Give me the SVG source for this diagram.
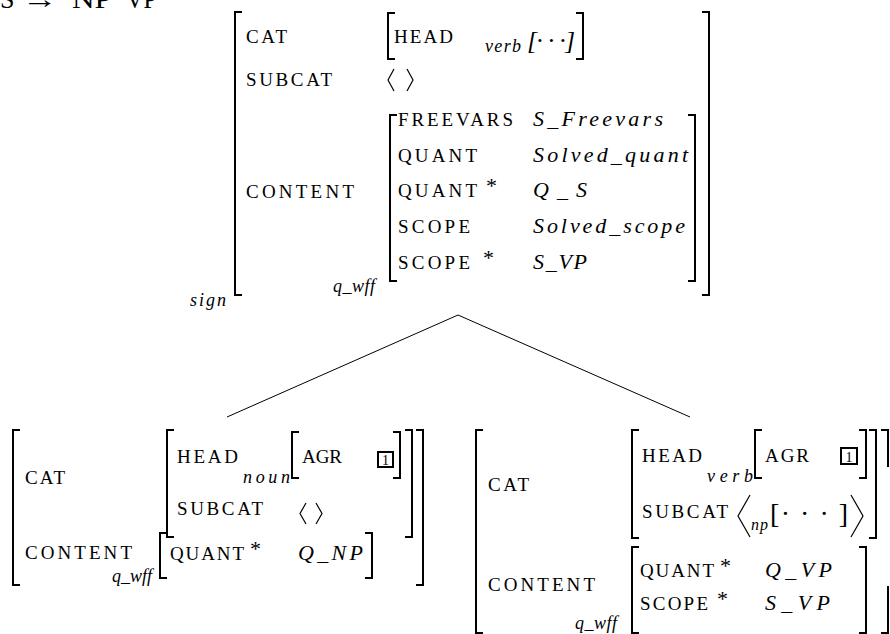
<svg xmlns="http://www.w3.org/2000/svg" width="890" height="634" viewBox="0 0 890 634">
  <style>
    .lbl { font-family: "Liberation Serif", serif; font-size: 19px; fill: #000; }
    .val { font-family: "Liberation Serif", serif; font-style: italic; font-size: 22px; fill: #000; }
    .typ { font-family: "Liberation Serif", serif; font-style: italic; font-size: 18px; fill: #000; }
    .star { font-family: "Liberation Serif", serif; font-size: 22px; fill: #000; }
    .num { font-family: "Liberation Serif", serif; font-size: 14px; fill: #000; text-anchor: middle; }
    .title { font-family: "Liberation Serif", serif; font-size: 26px; fill: #000; }
    .br { fill: none; stroke: #000; stroke-width: 2; }
    .ang { fill: none; stroke: #000; stroke-width: 1.2; }
    .edge { fill: none; stroke: #000; stroke-width: 1; }
    .tag { fill: none; stroke: #000; stroke-width: 2; }
  </style>

  <!-- rule heading -->
  <g id="rule">
    <text class="title" x="0" y="8">S</text>
    <text class="title" x="22" y="8" textLength="36" lengthAdjust="spacingAndGlyphs">→</text>
    <text class="title" x="72" y="8" textLength="40" lengthAdjust="spacingAndGlyphs">NP</text>
    <text class="title" x="126" y="8" textLength="31" lengthAdjust="spacingAndGlyphs">VP</text>
  </g>

  <!-- mother sign -->
  <g id="mother">
    <path class="br" d="M242,12 H235 V295 H242"/>
    <path class="br" d="M702,12 H709 V295 H702"/>
    <text class="typ" x="190" y="306" textLength="36" lengthAdjust="spacing">sign</text>

    <text class="lbl" x="246" y="43" textLength="41" lengthAdjust="spacing">CAT</text>
    <path class="br" d="M395,13 H388 V59 H395"/>
    <path class="br" d="M576,13 H583 V59 H576"/>
    <text class="lbl" x="394" y="43" textLength="59" lengthAdjust="spacing">HEAD</text>
    <text class="typ" x="485" y="52" textLength="36" lengthAdjust="spacing">verb</text>
    <text class="val" x="527" y="49" style="font-size:26px" textLength="48" lengthAdjust="spacing">[· · ·]</text>

    <text class="lbl" x="246" y="86" textLength="86" lengthAdjust="spacing">SUBCAT</text>
    <path class="ang" d="M394,69 L388,80 L394,91"/>
    <path class="ang" d="M407,69 L413,80 L407,91"/>

    <text class="lbl" x="246" y="198" textLength="108" lengthAdjust="spacing">CONTENT</text>
    <path class="br" d="M397,115 H390 V281 H397"/>
    <path class="br" d="M688,115 H695 V281 H688"/>
    <text class="typ" x="333" y="292" textLength="42" lengthAdjust="spacing">q_wff</text>

    <text class="lbl" x="398" y="126" textLength="115" lengthAdjust="spacing">FREEVARS</text>
    <text class="val" x="533" y="126" textLength="130" lengthAdjust="spacing">S_Freevars</text>
    <text class="lbl" x="398" y="162" textLength="79" lengthAdjust="spacing">QUANT</text>
    <text class="val" x="533" y="162" textLength="155" lengthAdjust="spacing">Solved_quant</text>
    <text class="lbl" x="398" y="197" textLength="79" lengthAdjust="spacing">QUANT</text>
    <text class="star" x="486" y="193">*</text>
    <text class="val" x="533" y="197" textLength="54" lengthAdjust="spacing">Q_S</text>
    <text class="lbl" x="398" y="233" textLength="72" lengthAdjust="spacing">SCOPE</text>
    <text class="val" x="533" y="233" textLength="152" lengthAdjust="spacing">Solved_scope</text>
    <text class="lbl" x="398" y="269" textLength="72" lengthAdjust="spacing">SCOPE</text>
    <text class="star" x="483" y="265">*</text>
    <text class="val" x="533" y="269" textLength="54" lengthAdjust="spacing">S_VP</text>
  </g>

  <!-- branches -->
  <g id="edges">
    <path class="edge" d="M227,417 L458,315 L690,417"/>
  </g>

  <!-- left daughter -->
  <g id="daughter-np">
    <path class="br" d="M20,430 H13 V585 H20"/>
    <path class="br" d="M416,430 H423 V585 H416"/>
    <text class="lbl" x="25" y="484" textLength="40" lengthAdjust="spacing">CAT</text>
    <path class="br" d="M174,430 H167 V537 H174"/>
    <path class="br" d="M405,430 H412 V537 H405"/>
    <text class="lbl" x="177" y="463" textLength="61" lengthAdjust="spacing">HEAD</text>
    <text class="typ" x="243" y="483" textLength="47" lengthAdjust="spacing">noun</text>
    <path class="br" d="M299,432 H292 V478 H299"/>
    <path class="br" d="M393,432 H400 V478 H393"/>
    <text class="lbl" x="302" y="463" textLength="40" lengthAdjust="spacing">AGR</text>
    <rect class="tag" x="378" y="452" width="15" height="15"/>
    <text class="num" x="385.5" y="465">1</text>
    <text class="lbl" x="177" y="515" textLength="86" lengthAdjust="spacing">SUBCAT</text>
    <path class="ang" d="M306,503 L300,513.5 L306,524"/>
    <path class="ang" d="M316,503 L322,513.5 L316,524"/>

    <text class="lbl" x="25" y="559" textLength="107" lengthAdjust="spacing">CONTENT</text>
    <text class="typ" x="112" y="582" textLength="40" lengthAdjust="spacing">q_wff</text>
    <path class="br" d="M167,533 H160 V578 H167"/>
    <path class="br" d="M365,533 H372 V578 H365"/>
    <text class="lbl" x="170" y="560" textLength="74" lengthAdjust="spacing">QUANT</text>
    <text class="star" x="250" y="556">*</text>
    <text class="val" x="298" y="560" textLength="65" lengthAdjust="spacing">Q_NP</text>
  </g>

  <!-- right daughter -->
  <g id="daughter-vp">
    <path class="br" d="M483,430 H476 V633 H483"/>
    <path class="br" d="M881,430 H888 V467"/>
    <path class="br" d="M888,586 V633 H881"/>
    <text class="lbl" x="488" y="491" textLength="41" lengthAdjust="spacing">CAT</text>
    <path class="br" d="M639,430 H632 V538 H639"/>
    <path class="br" d="M869,430 H876 V538 H869"/>
    <text class="lbl" x="642" y="462" textLength="60" lengthAdjust="spacing">HEAD</text>
    <text class="typ" x="707" y="482" textLength="46" lengthAdjust="spacing">verb</text>
    <path class="br" d="M762,430 H755 V478 H762"/>
    <path class="br" d="M859,430 H866 V478 H859"/>
    <text class="lbl" x="765" y="462" textLength="44" lengthAdjust="spacing">AGR</text>
    <rect class="tag" x="841" y="448" width="16" height="16"/>
    <text class="num" x="849" y="461.5">1</text>
    <text class="lbl" x="642" y="518" textLength="86" lengthAdjust="spacing">SUBCAT</text>
    <path class="ang" d="M750,495 L738,516 L750,537"/>
    <text class="typ" x="751" y="530" style="font-size:16px" textLength="17" lengthAdjust="spacing">np</text>
    <text class="lbl" x="770" y="523" style="font-size:28px" textLength="78" lengthAdjust="spacing">[· · · ]</text>
    <path class="ang" d="M851,495 L863,516 L851,537"/>

    <text class="lbl" x="488" y="591" textLength="107" lengthAdjust="spacing">CONTENT</text>
    <text class="typ" x="575" y="629" textLength="42" lengthAdjust="spacing">q_wff</text>
    <path class="br" d="M639,547 H632 V633 H639"/>
    <path class="br" d="M859,547 H866 V633 H859"/>
    <text class="lbl" x="640" y="577" textLength="74" lengthAdjust="spacing">QUANT</text>
    <text class="star" x="720" y="573">*</text>
    <text class="val" x="765" y="577" textLength="67" lengthAdjust="spacing">Q_VP</text>
    <text class="lbl" x="640" y="610" textLength="68" lengthAdjust="spacing">SCOPE</text>
    <text class="star" x="717" y="606">*</text>
    <text class="val" x="765" y="610" textLength="65" lengthAdjust="spacing">S_VP</text>
  </g>
</svg>
